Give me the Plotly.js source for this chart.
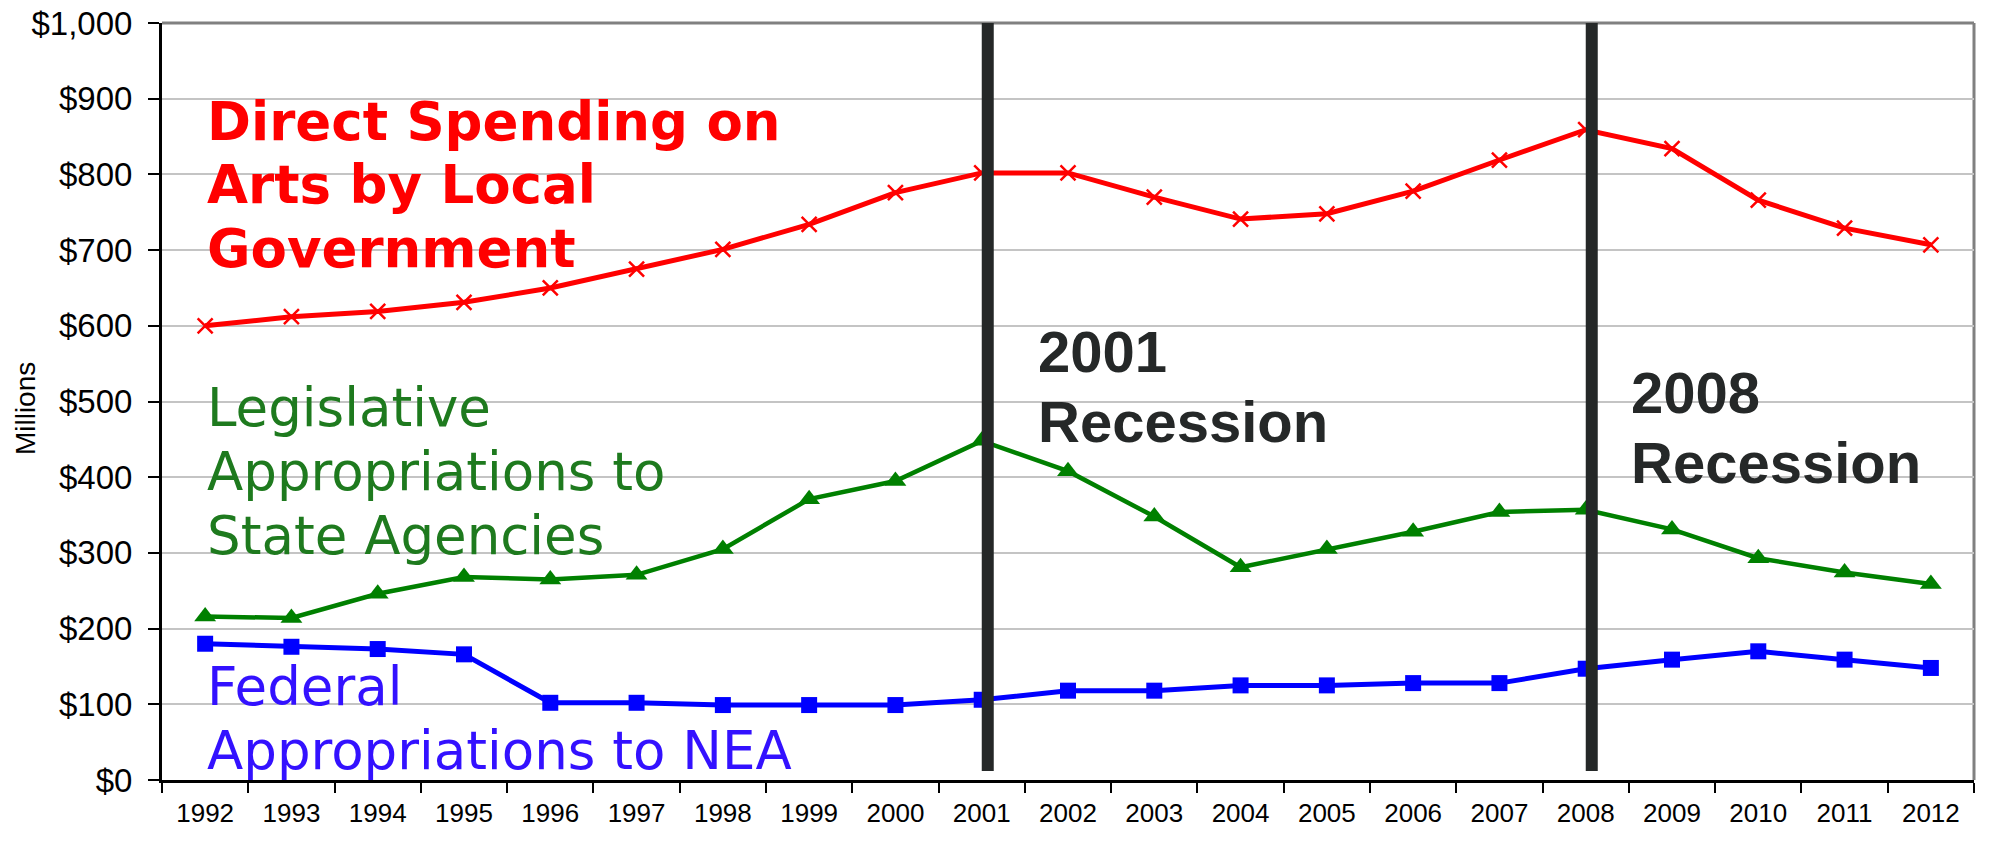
<!DOCTYPE html>
<html>
<head>
<meta charset="utf-8">
<script src="https://cdn.plot.ly/plotly-3.0.1.min.js"></script>
<style>
html,body{margin:0;padding:0;background:#fff;}
#chart{width:1990px;height:841px;}
</style>
</head>
<body>
<div id="chart"></div>
<script>
// ---- data ----
var years = ['1992','1993','1994','1995','1996','1997','1998','1999','2000','2001','2002',
             '2003','2004','2005','2006','2007','2008','2009','2010','2011','2012'];
var localGov = [600, 612, 619, 631, 650, 675, 701, 734, 776, 802, 802,
                770, 741, 748, 778, 819, 859, 834, 766, 729, 707];
var stateAgencies = [216, 214, 246, 268, 265, 271, 305, 371, 395, 448, 408,
                     348, 281, 305, 328, 354, 357, 331, 293, 274, 259];
var federalNEA = [180, 176, 173, 166, 102, 102, 99, 99, 99, 106, 118,
                  118, 125, 125, 128, 128, 147, 159, 170, 159, 148];
var recessionYears = ['2001', '2008'];
var yTickVals = [0,100,200,300,400,500,600,700,800,900,1000];
var yTickText = ['$0','$100','$200','$300','$400','$500','$600','$700','$800','$900','$1,000'];

var traces = [
  {x: years, y: localGov, type: 'scatter', mode: 'lines+markers', name: 'Local',
   line: {color: '#ff0000', width: 5},
   marker: {symbol: 'x-thin', size: 15, color: '#ff0000', line: {color: '#ff0000', width: 2.5}}},
  {x: years, y: stateAgencies, type: 'scatter', mode: 'lines+markers', name: 'State',
   line: {color: '#008000', width: 4.5},
   marker: {symbol: 'triangle-up', size: 19, color: '#008000'}},
  {x: years, y: federalNEA, type: 'scatter', mode: 'lines+markers', name: 'Federal',
   line: {color: '#0000ff', width: 5},
   marker: {symbol: 'square', size: 16, color: '#0000ff'}}
];

var shapes = recessionYears.map(function(r){
  return {type: 'line', xref: 'x', yref: 'y', x0: years.indexOf(r) + 0.07, x1: years.indexOf(r) + 0.07,
          y0: 12, y1: 1000, line: {color: '#252828', width: 12}, layer: 'above'};
});
shapes.push({type: 'line', xref: 'paper', yref: 'paper', x0: 0, x1: 1, y0: 1, y1: 1,
             line: {color: '#808080', width: 3}, layer: 'below'});
shapes.push({type: 'line', xref: 'paper', yref: 'paper', x0: 1, x1: 1, y0: 0, y1: 1,
             line: {color: '#808080', width: 3}, layer: 'below'});

function note(text, x, y, color, size, family, bold) {
  return {text: bold ? '<b>' + text + '</b>' : text, xref: 'paper', yref: 'y', x: x, y: y,
          xanchor: 'left', yanchor: 'middle', showarrow: false,
          font: {color: color, size: size, family: family}};
}
var verdana = 'DejaVu Sans, Verdana, sans-serif';
var arial = 'Liberation Sans, Arial, sans-serif';
var annotations = [
  note('Direct Spending on', 0.0240, 869.7, '#ff0000', 53, verdana, true),
  note('Arts by Local', 0.0240, 786.5, '#ff0000', 53, verdana, true),
  note('Government', 0.0240, 702.4, '#ff0000', 53, verdana, true),
  note('Legislative', 0.0240, 491.7, '#1e7a1e', 53, verdana, false),
  note('Appropriations to', 0.0240, 407.8, '#1e7a1e', 53, verdana, false),
  note('State Agencies', 0.0240, 322.9, '#1e7a1e', 53, verdana, false),
  note('Federal', 0.0240, 123.8, '#3311ff', 53, verdana, false),
  note('Appropriations to NEA', 0.0240, 39.3, '#3311ff', 53, verdana, false),
  note('2001', 0.4823, 566.2, '#252828', 58, arial, true),
  note('Recession', 0.4823, 474.2, '#252828', 58, arial, true),
  note('2008', 0.8096, 512.2, '#252828', 58, arial, true),
  note('Recession', 0.8096, 419.3, '#252828', 58, arial, true),
  {text: 'Millions', xref: 'paper', yref: 'y', x: -0.0756, y: 490, textangle: -90,
   xanchor: 'center', yanchor: 'middle', showarrow: false,
   font: {color: '#000000', size: 28, family: arial}}
];

var layout = {
  width: 1990, height: 841,
  margin: {l: 162, r: 16, t: 23, b: 61, pad: 0},
  paper_bgcolor: '#ffffff', plot_bgcolor: '#ffffff',
  showlegend: false,
  xaxis: {
    type: 'category', range: [-0.5, 20.5], tickson: 'boundaries',
    ticks: 'outside', ticklen: 10, tickwidth: 2, tickcolor: '#000000',
    showline: true, linecolor: '#000000', linewidth: 3,
    showgrid: false, zeroline: false, fixedrange: true,
    ticklabelstandoff: 8,
    tickfont: {family: 'Liberation Sans Narrow, Arial Narrow, Liberation Sans, Arial', size: 26, color: '#000000'}
  },
  yaxis: {
    range: [0, 1000], tickmode: 'array', tickvals: yTickVals, ticktext: yTickText,
    ticks: 'outside', ticklen: 11, tickwidth: 2, tickcolor: '#000000',
    showline: true, linecolor: '#000000', linewidth: 3,
    showgrid: true, gridcolor: '#c4c4c4', gridwidth: 2, zeroline: false, fixedrange: true,
    ticklabelstandoff: 9,
    tickfont: {family: arial, size: 33, color: '#000000'}
  },
  shapes: shapes,
  annotations: annotations
};

Plotly.newPlot('chart', traces, layout, {displayModeBar: false, staticPlot: true});
</script>
</body>
</html>
